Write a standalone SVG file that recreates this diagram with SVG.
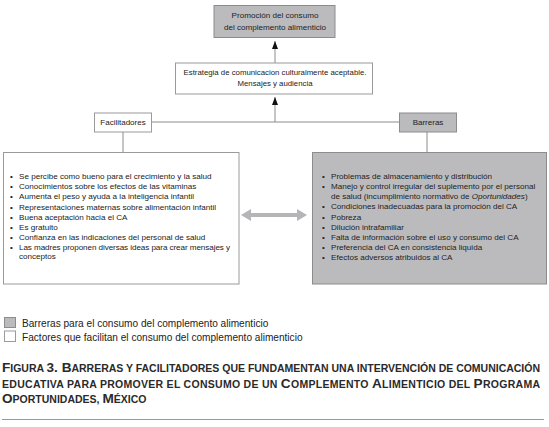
<svg xmlns="http://www.w3.org/2000/svg" width="549" height="427" viewBox="0 0 549 427">
<style>
text{font-family:"Liberation Sans",Arial,sans-serif;fill:#222}
.t{font-size:8.1px}
.s{font-size:7.8px}
.c{text-anchor:middle}
.lbl{font-size:8px}
.box{fill:#fff;stroke:#9a9a9a;stroke-width:1}
.gbox{fill:#bbbbbe;stroke:#8c8c8c;stroke-width:1}
.ln{stroke:#8c8c8c;stroke-width:1;fill:none}
.leg{font-size:10.1px}
.cap{font-size:10.5px;font-weight:bold;fill:#2a2a2a}
.B{font-size:13.6px}
</style>
<defs>
<marker id="ah" markerWidth="8" markerHeight="6" refX="8" refY="3" orient="auto" markerUnits="userSpaceOnUse" viewBox="0 0 8 6">
<path d="M0,0 L8,3 L0,6 Z" fill="#111"/>
</marker>
</defs>
<rect width="549" height="427" fill="#fff"/>
<g id="connectors">
<line class="ln" x1="275" y1="63" x2="275" y2="41" marker-end="url(#ah)"/>
<line class="ln" x1="275" y1="122" x2="275" y2="97" marker-end="url(#ah)"/>
<line class="ln" x1="151" y1="122" x2="399" y2="122"/>
<line class="ln" x1="123" y1="132" x2="123" y2="152"/>
<line class="ln" x1="427" y1="132" x2="427" y2="152"/>
<polygon points="241,215 251,209 251,213 297,213 297,209 307,215 297,221 297,217 251,217 251,221" fill="#b5b5b8"/>
</g>
<g id="promocion">
<rect class="gbox" x="214" y="5.5" width="121" height="32"/>
<text class="t c" x="275" y="18">Promoción del consumo</text>
<text class="t c" x="275" y="30">del complemento alimenticio</text>
</g>
<g id="estrategia">
<rect class="box" x="175.5" y="63" width="197" height="31"/>
<text class="s c" x="275" y="75">Estrategia de comunicacion culturalmente aceptable.</text>
<text class="s c" x="275" y="86">Mensajes  y audiencia</text>
</g>
<g id="facilitadores">
<rect class="box" x="94.5" y="113" width="57" height="19"/>
<text class="lbl c" x="123" y="125">Facilitadores</text>
</g>
<g id="barreras">
<rect class="gbox" x="399.5" y="113" width="57" height="19"/>
<text class="lbl c" x="428" y="125">Barreras</text>
</g>
<g id="facilitadores-lista">
<rect class="box" x="3.5" y="152.5" width="235.5" height="131.5"/>
<g class="t">
<text x="10" y="179">•</text><text x="19" y="179">Se percibe como bueno para el crecimiento y la salud</text>
<text x="10" y="189.2">•</text><text x="19" y="189.2">Conocimientos sobre los efectos de las vitaminas</text>
<text x="10" y="199.4">•</text><text x="19" y="199.4">Aumenta el peso y ayuda a la inteligencia infantil</text>
<text x="10" y="209.6">•</text><text x="19" y="209.6">Representaciones maternas sobre alimentación infantil</text>
<text x="10" y="219.8">•</text><text x="19" y="219.8">Buena aceptación hacia el CA</text>
<text x="10" y="230">•</text><text x="19" y="230">Es gratuito</text>
<text x="10" y="240.2">•</text><text x="19" y="240.2">Confianza en las indicaciones del personal de salud</text>
<text x="10" y="250.2">•</text><text x="19" y="250.2" textLength="211" lengthAdjust="spacing">Las madres proponen diversas ideas para crear mensajes y</text>
<text x="19" y="259">conceptos</text>
</g>
</g>
<g id="barreras-lista">
<rect class="gbox" x="312.5" y="152.5" width="234" height="131.5"/>
<g class="t">
<text x="322" y="179">•</text><text x="331" y="179">Problemas de almacenamiento y distribución</text>
<text x="322" y="189">•</text><text x="331" y="189">Manejo y control irregular del suplemento por el personal</text>
<text x="331" y="198.5">de salud (incumplimiento normativo de <tspan font-style="italic">Oportunidades</tspan>)</text>
<text x="322" y="209">•</text><text x="331" y="209">Condiciones inadecuadas para la promoción del CA</text>
<text x="322" y="219.5">•</text><text x="331" y="219.5">Pobreza</text>
<text x="322" y="229.7">•</text><text x="331" y="229.7">Dilución intrafamiliar</text>
<text x="322" y="240">•</text><text x="331" y="240">Falta de información sobre el uso y consumo del CA</text>
<text x="322" y="250">•</text><text x="331" y="250">Preferencia del CA  en consistencia liquida</text>
<text x="322" y="260.3">•</text><text x="331" y="260.3">Efectos adversos atribuidos  al CA</text>
</g>
</g>
<g id="leyenda">
<rect class="gbox" x="4.5" y="317.5" width="11" height="10"/>
<rect class="box" x="4.5" y="331" width="11" height="10.5"/>
<text class="leg" x="22" y="327">Barreras para el consumo del complemento alimenticio</text>
<text class="leg" x="22" y="340.5">Factores que facilitan el consumo del complemento alimenticio</text>
</g>
<g id="titulo">
<text class="cap" x="2" y="372" textLength="538" lengthAdjust="spacing"><tspan class="B">F</tspan>IGURA <tspan class="B">3. B</tspan>ARRERAS Y FACILITADORES QUE FUNDAMENTAN UNA INTERVENCIÓN DE COMUNICACIÓN</text>
<text class="cap" x="2" y="387.5" textLength="538" lengthAdjust="spacing">EDUCATIVA PARA PROMOVER  EL CONSUMO DE UN <tspan class="B">C</tspan>OMPLEMENTO <tspan class="B">A</tspan>LIMENTICIO DEL <tspan class="B">P</tspan>ROGRAMA</text>
<text class="cap" x="2" y="403"><tspan class="B">O</tspan>PORTUNIDADES, <tspan class="B">M</tspan>ÉXICO</text>
<line x1="2" y1="419.5" x2="544" y2="419.5" stroke="#9a9a9a" stroke-width="1"/>
</g>
</svg>
